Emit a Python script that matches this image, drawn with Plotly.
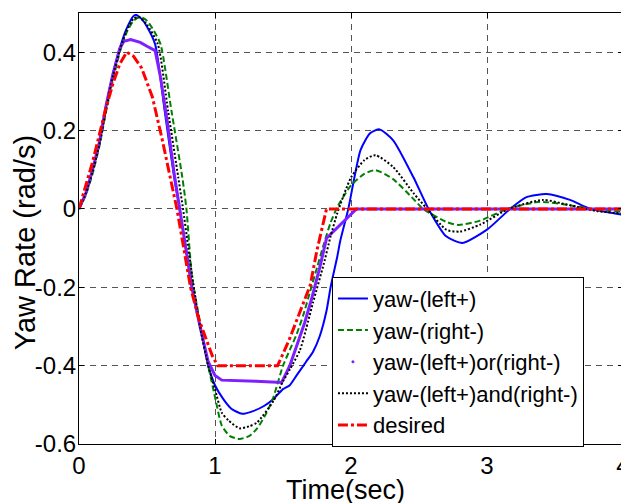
import plotly.graph_objects as go

# ---------------- data ----------------
t_left = [0, 0.05, 0.1, 0.15, 0.2, 0.25, 0.3, 0.35, 0.4, 0.42, 0.46, 0.5, 0.56, 0.63, 0.7, 0.74, 0.79, 0.83,
          0.89, 0.95, 1.0, 1.06, 1.12, 1.2, 1.28, 1.36, 1.43, 1.5, 1.55, 1.6, 1.67, 1.72, 1.77, 1.82, 1.85,
          1.9, 1.92, 1.98, 2.07, 2.14, 2.21, 2.31, 2.46, 2.57, 2.7, 2.82, 3.0, 3.17, 3.29, 3.44, 3.61, 3.76, 4.0]
yaw_left = [0, 0.04, 0.10, 0.17, 0.265, 0.345, 0.41, 0.46, 0.492, 0.495, 0.485, 0.465, 0.42, 0.25, 0.08, 0.0, -0.11, -0.2,
            -0.3, -0.40, -0.45, -0.485, -0.51, -0.523, -0.516, -0.503, -0.485, -0.46, -0.45, -0.425, -0.39, -0.365, -0.325, -0.26, -0.2,
            -0.12, -0.083, 0.0, 0.15, 0.193, 0.203, 0.175, 0.08, 0.0, -0.07, -0.087, -0.053, 0.0, 0.03, 0.038, 0.023, 0.0, -0.015]

t_right = [0, 0.05, 0.1, 0.15, 0.2, 0.25, 0.3, 0.35, 0.4, 0.45, 0.5, 0.55, 0.6, 0.68, 0.76, 0.79, 0.83, 0.89,
           0.95, 1.0, 1.05, 1.11, 1.18, 1.25, 1.31, 1.38, 1.43, 1.5, 1.55, 1.6, 1.65, 1.7, 1.75, 1.8, 1.85,
           1.9, 2.0, 2.1, 2.18, 2.31, 2.46, 2.53, 2.7, 2.79, 2.95, 3.15, 3.39, 3.6, 3.8, 4.0]
yaw_right = [0, 0.035, 0.09, 0.16, 0.25, 0.33, 0.40, 0.45, 0.48, 0.49, 0.48, 0.455, 0.42, 0.25, 0.08, 0.0, -0.17, -0.29,
             -0.40, -0.48, -0.553, -0.58, -0.587, -0.58, -0.56, -0.52, -0.48, -0.40, -0.36, -0.32, -0.27, -0.21, -0.15, -0.09, -0.035,
             0.005, 0.06, 0.09, 0.099, 0.076, 0.025, 0.0, -0.033, -0.041, -0.03, 0.0, 0.018, 0.01, -0.002, -0.008]

t_or = [0, 0.05, 0.1, 0.15, 0.2, 0.25, 0.3, 0.33, 0.38, 0.45, 0.5, 0.56, 0.6, 0.65, 0.7, 0.74, 0.79, 0.83,
        0.89, 0.95, 1.0, 1.05, 1.3, 1.49, 1.55, 1.6, 1.66, 1.71, 1.77, 1.82, 2.04, 4.0]
yaw_or = [0, 0.04, 0.10, 0.17, 0.265, 0.345, 0.41, 0.428, 0.432, 0.425, 0.415, 0.404, 0.335, 0.22, 0.09, 0.0, -0.11, -0.2,
          -0.3, -0.39, -0.425, -0.437, -0.44, -0.443, -0.40, -0.35, -0.29, -0.23, -0.15, -0.075, 0.0, 0.0]

t_and = [0, 0.05, 0.1, 0.15, 0.2, 0.25, 0.3, 0.35, 0.4, 0.44, 0.5, 0.58, 0.655, 0.73, 0.765, 0.8, 0.84, 0.89,
         0.95, 1.0, 1.05, 1.1, 1.18, 1.25, 1.31, 1.43, 1.5, 1.55, 1.625, 1.72, 1.8, 1.85, 1.9, 2.0, 2.1, 2.18,
         2.31, 2.46, 2.56, 2.7, 2.8, 2.95, 3.16, 3.41, 3.6, 3.8, 4.0]
yaw_and = [0, 0.04, 0.095, 0.165, 0.255, 0.34, 0.405, 0.455, 0.485, 0.49, 0.47, 0.42, 0.25, 0.08, 0.0, -0.09, -0.19, -0.3,
           -0.40, -0.46, -0.52, -0.54, -0.56, -0.555, -0.545, -0.49, -0.44, -0.41, -0.36, -0.24, -0.14, -0.07, -0.01, 0.08, 0.125, 0.137,
           0.107, 0.04, 0.0, -0.053, -0.058, -0.04, 0.0, 0.023, 0.01, -0.005, -0.012]

t_des = [0, 0.05, 0.1, 0.15, 0.2, 0.25, 0.3, 0.35, 0.4, 0.46, 0.54, 0.61, 0.68, 0.72, 0.77, 0.82, 0.88, 0.94,
         0.98, 1.02, 1.46, 1.5, 1.55, 1.6, 1.65, 1.7, 1.75, 1.8, 1.82, 4.0]
yaw_des = [0, 0.06, 0.12, 0.19, 0.26, 0.32, 0.37, 0.40, 0.39, 0.36, 0.285, 0.18, 0.066, 0.0, -0.1, -0.2, -0.28, -0.335,
           -0.375, -0.40, -0.40, -0.37, -0.33, -0.285, -0.24, -0.195, -0.105, -0.03, 0.0, 0.0]

series_names = ["yaw-(left+)", "yaw-(right-)", "yaw-(left+)or(right-)", "yaw-(left+)and(right-)", "desired"]

x_title = "Time(sec)"
y_title = "Yaw Rate (rad/s)"
x_tickvals = [0, 1, 2, 3, 4]
x_ticktext = ["0", "1", "2", "3", "4"]
y_tickvals = [-0.6, -0.4, -0.2, 0, 0.2, 0.4]
y_ticktext = ["-0.6", "-0.4", "-0.2", "0", "0.2", "0.4"]

# ---------------- figure ----------------
FONT = "Liberation Sans, Arial, sans-serif"
fig = go.Figure()

fig.add_trace(go.Scatter(x=t_left, y=yaw_left, name=series_names[0], mode="lines",
                         line=dict(color="#0000ff", width=2, shape="spline", smoothing=0.6)))
fig.add_trace(go.Scatter(x=t_right, y=yaw_right, name=series_names[1], mode="lines",
                         line=dict(color="#008000", width=2, dash="6px,3px", shape="spline", smoothing=0.6)))
fig.add_trace(go.Scatter(x=t_or, y=yaw_or, name=series_names[2], mode="lines", showlegend=False,
                         line=dict(color="#7f1fff", width=3)))
fig.add_trace(go.Scatter(x=[None], y=[None], name=series_names[2], mode="markers",
                         marker=dict(color="#7f1fff", size=3)))
fig.add_trace(go.Scatter(x=t_and, y=yaw_and, name=series_names[3], mode="lines",
                         line=dict(color="#000000", width=2, dash="2px,2px", shape="spline", smoothing=0.6)))
fig.add_trace(go.Scatter(x=t_des, y=yaw_des, name=series_names[4], mode="lines",
                         line=dict(color="#ff0000", width=3, dash="10px,3px,3px,3px")))

axis_common = dict(showline=True, linecolor="black", linewidth=1, mirror="ticks",
                   ticks="inside", ticklen=5, tickcolor="black", automargin=False,
                   ticklabeloverflow="allow",
                   showgrid=True, gridcolor="#555555", gridwidth=1, griddash="6px,5px",
                   zeroline=False, tickfont=dict(family=FONT, size=24, color="black"))

fig.update_xaxes(range=[0, 4], tickvals=x_tickvals, ticktext=x_ticktext, **axis_common)
fig.update_yaxes(range=[-0.6, 0.5], tickvals=y_tickvals, ticktext=y_ticktext,
                 ticklabelstandoff=-3, **axis_common)

fig.add_annotation(text=x_title, xref="paper", yref="paper", x=0.49, y=-0.107,
                   xanchor="center", yanchor="middle", showarrow=False,
                   font=dict(family=FONT, size=27, color="black"))
fig.add_annotation(text=y_title, xref="paper", yref="paper", x=-0.099, y=0.466,
                   xanchor="center", yanchor="middle", showarrow=False, textangle=-90,
                   font=dict(family=FONT, size=29, color="black"))

# page body has an 8px default margin, so the figure is 8px smaller than the window
fig.update_layout(
    width=621, height=495,
    margin=dict(l=71, r=6, t=5, b=59),
    plot_bgcolor="white", paper_bgcolor="white",
    font=dict(family=FONT, color="black"),
    legend=dict(x=0.465, y=0.191, xanchor="left", yanchor="middle",
                bgcolor="white", bordercolor="black", borderwidth=1,
                font=dict(family=FONT, size=22, color="black"),
                tracegroupgap=0, itemwidth=30),
)

fig.write_html("out.html")
